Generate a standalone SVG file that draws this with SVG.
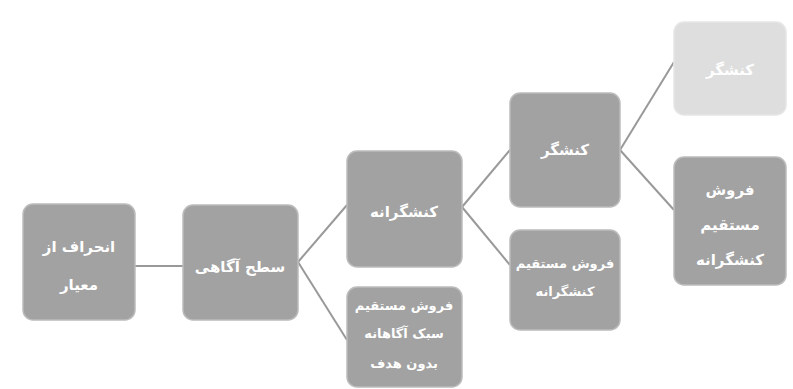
<svg xmlns="http://www.w3.org/2000/svg" width="793" height="389" viewBox="0 0 793 389">
<style>
.box{fill:#a2a2a2;stroke:#bcbcbc;stroke-width:1.5}
.light{fill:#dedede;stroke:#e6e6e6;stroke-width:1.5}
.t{font-family:"DejaVu Sans","Noto Sans",sans-serif;font-size:15px;font-weight:bold;fill:#ffffff;text-anchor:middle;direction:rtl}
.s{font-size:13px}
.c{stroke:#999999;stroke-width:2;fill:none}
</style>
<rect width="793" height="389" fill="#ffffff"/>
<g id="connectors">
<line class="c" x1="135" y1="266" x2="183" y2="266"/>
<line class="c" x1="298" y1="262" x2="347" y2="205"/>
<line class="c" x1="298" y1="262" x2="347" y2="340"/>
<line class="c" x1="462" y1="207" x2="510" y2="150"/>
<line class="c" x1="462" y1="207" x2="510" y2="265"/>
<line class="c" x1="620" y1="150" x2="674" y2="62"/>
<line class="c" x1="620" y1="150" x2="674" y2="210"/>
</g>
<g id="n1"><rect class="box" x="23" y="204" width="112" height="116" rx="10"/>
<text class="t" x="79" y="252">انحراف از</text><text class="t" x="79" y="290">معیار</text></g>
<g id="n2"><rect class="box" x="183" y="205" width="115" height="115" rx="10"/>
<text class="t" x="240" y="272">سطح آگاهی</text></g>
<g id="n3"><rect class="box" x="347" y="151" width="115" height="116" rx="10"/>
<text class="t" x="404" y="217">کنشگرانه</text></g>
<g id="n4"><rect class="box" x="347" y="287" width="115" height="100" rx="10"/>
<text class="t s" x="404" y="310">فروش مستقیم</text><text class="t s" x="404" y="338">سبک آگاهانه</text><text class="t s" x="404" y="368">بدون هدف</text></g>
<g id="n5"><rect class="box" x="510" y="93" width="110" height="114" rx="10"/>
<text class="t" x="565" y="155">کنشگر</text></g>
<g id="n6"><rect class="box" x="510" y="230" width="110" height="100" rx="10"/>
<text class="t s" x="565" y="268">فروش مستقیم</text><text class="t s" x="565" y="296">کنشگرانه</text></g>
<g id="n7"><rect class="light" x="674" y="22" width="112" height="93" rx="10"/>
<text class="t" x="730" y="75">کنشگر</text></g>
<g id="n8"><rect class="box" x="674" y="157" width="112" height="128" rx="10"/>
<text class="t" x="730" y="195">فروش</text><text class="t" x="730" y="230">مستقیم</text><text class="t" x="730" y="265">کنشگرانه</text></g>
</svg>
